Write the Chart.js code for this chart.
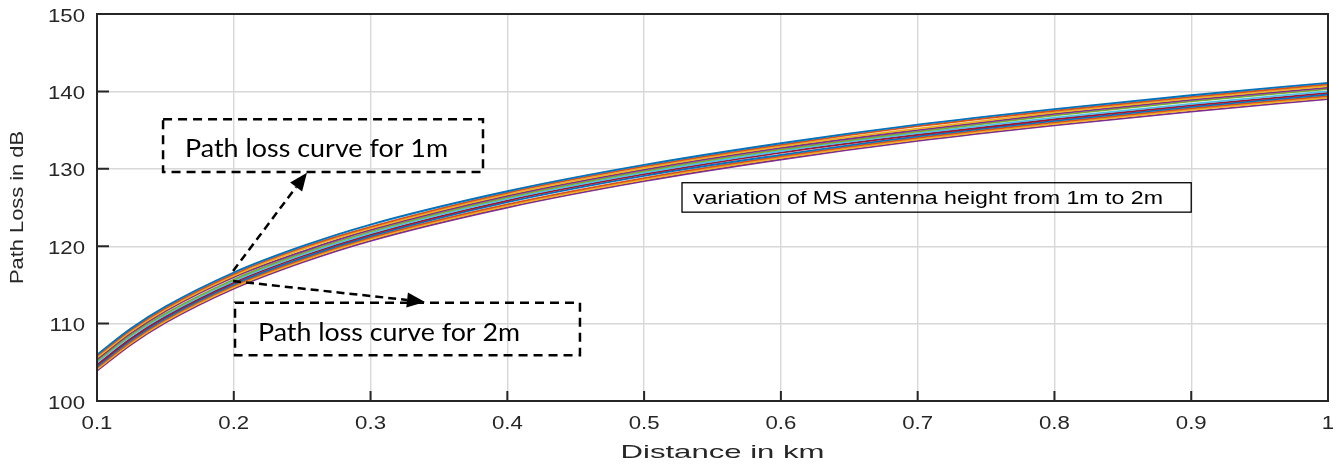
<!DOCTYPE html>
<html>
<head>
<meta charset="utf-8">
<title>Path loss vs distance</title>
<script src="https://cdn.jsdelivr.net/npm/chart.js@4.4.1/dist/chart.umd.min.js"></script>
<style>
  html, body { margin: 0; padding: 0; background: #ffffff; }
  canvas { display: block; }
</style>
</head>
<body>
<canvas id="pathLossChart" width="1339" height="466"></canvas>
<script>
// Distance from the base station (km)
const distanceKm = [0.1, 0.125, 0.15, 0.2, 0.25, 0.3, 0.4, 0.5, 0.6, 0.7, 0.8, 0.9, 1.0];

// Mobile station antenna heights, one curve each
const antennaHeights = ['1.0 m', '1.1 m', '1.2 m', '1.3 m', '1.4 m', '1.5 m', '1.6 m', '1.7 m', '1.8 m', '1.9 m', '2.0 m'];

// Path loss (dB) for each antenna height
const loss_1_0 = [106.0, 109.4, 112.2, 116.6, 120.0, 122.8, 127.1, 130.5, 133.3, 135.7, 137.7, 139.5, 141.1];
const loss_1_1 = [105.8, 109.2, 112.0, 116.4, 119.8, 122.5, 126.9, 130.3, 133.1, 135.5, 137.5, 139.3, 140.9];
const loss_1_2 = [105.6, 109.0, 111.8, 116.2, 119.6, 122.3, 126.7, 130.1, 132.9, 135.2, 137.3, 139.1, 140.7];
const loss_1_3 = [105.4, 108.8, 111.6, 116.0, 119.3, 122.1, 126.5, 129.9, 132.7, 135.0, 137.1, 138.9, 140.5];
const loss_1_4 = [105.2, 108.6, 111.3, 115.7, 119.1, 121.9, 126.3, 129.7, 132.5, 134.8, 136.9, 138.7, 140.3];
const loss_1_5 = [105.0, 108.4, 111.1, 115.5, 118.9, 121.7, 126.1, 129.5, 132.3, 134.6, 136.6, 138.4, 140.0];
const loss_1_6 = [104.7, 108.1, 110.9, 115.3, 118.7, 121.5, 125.9, 129.3, 132.1, 134.4, 136.4, 138.2, 139.8];
const loss_1_7 = [104.5, 107.9, 110.7, 115.1, 118.5, 121.3, 125.7, 129.1, 131.8, 134.2, 136.2, 138.0, 139.6];
const loss_1_8 = [104.3, 107.7, 110.5, 114.9, 118.3, 121.1, 125.4, 128.8, 131.6, 134.0, 136.0, 137.8, 139.4];
const loss_1_9 = [104.1, 107.5, 110.3, 114.7, 118.1, 120.9, 125.2, 128.6, 131.4, 133.8, 135.8, 137.6, 139.2];
const loss_2_0 = [103.9, 107.3, 110.1, 114.5, 117.9, 120.7, 125.0, 128.4, 131.2, 133.6, 135.6, 137.4, 139.0];

const lossSeries = [loss_1_0, loss_1_1, loss_1_2, loss_1_3, loss_1_4, loss_1_5,
                    loss_1_6, loss_1_7, loss_1_8, loss_1_9, loss_2_0];

// Axis ticks
const xTickValues = [0.1, 0.2, 0.3, 0.4, 0.5, 0.6, 0.7, 0.8, 0.9, 1.0];
const xTickLabels = ['0.1', '0.2', '0.3', '0.4', '0.5', '0.6', '0.7', '0.8', '0.9', '1'];
const yTickValues = [100, 110, 120, 130, 140, 150];
const yTickLabels = ['100', '110', '120', '130', '140', '150'];

const xAxisTitle = 'Distance in km';
const yAxisTitle = 'Path Loss in dB';

// Default line colour cycle
const lineColors = ['#0072BD', '#D95319', '#EDB120', '#7E2F8E', '#77AC30', '#4DBEEE', '#A2142F'];

const AXIS_COLOR = '#262626';
const GRID_COLOR = '#d8d8d8';
const LABEL_FONT = '17.5px "Liberation Sans"';
const LABEL_STRETCH = 1.27;

const datasets = lossSeries.map((values, i) => ({
  label: antennaHeights[i],
  data: distanceKm.map((d, k) => ({ x: d, y: values[k] })),
  borderColor: lineColors[i % lineColors.length],
  backgroundColor: lineColors[i % lineColors.length],
  borderWidth: 1.8,
  pointRadius: 0,
  fill: false,
  cubicInterpolationMode: 'monotone'
}));

// Callout boxes and arrows (positions in axis units)
const callouts = [
  { text: 'Path loss curve for 1m', x0: 0.1483, x1: 0.3822, y0: 136.4, y1: 129.6,
    dashed: true, font: '25px Lato', textDx: 22, textDy: 38, textWidth: 263 },
  { text: 'Path loss curve for 2m', x0: 0.2009, x1: 0.4531, y0: 112.7, y1: 105.9,
    dashed: true, font: '25px Lato', textDx: 23, textDy: 38, textWidth: 262 },
  { text: 'variation of MS antenna height from 1m to 2m', x0: 0.5277, x1: 0.9, y0: 128.2, y1: 124.4,
    dashed: false, font: '18px "Liberation Sans"', textDx: 11, textDy: 21, textWidth: 470 }
];
const arrows = [
  { fromX: 0.1995, fromY: 116.8, toX: 0.2535, toY: 129.5 },
  { fromX: 0.1995, fromY: 115.5, toX: 0.3398, toY: 112.8 }
];

// Text drawn with an independent horizontal scale (sx) or fitted to a width
function drawText(ctx, text, x, y, font, opt) {
  ctx.save();
  ctx.font = font;
  const natural = ctx.measureText(text).width;
  const sx = opt.width ? opt.width / natural : (opt.sx || 1);
  ctx.translate(x, y);
  if (opt.rotate) ctx.rotate(opt.rotate);
  ctx.scale(sx, 1);
  ctx.textAlign = opt.align || 'left';
  ctx.textBaseline = 'alphabetic';
  ctx.fillStyle = opt.color || '#000';
  ctx.fillText(text, 0, 0);
  ctx.restore();
}

function drawArrow(ctx, x1, y1, x2, y2) {
  const ang = Math.atan2(y2 - y1, x2 - x1);
  const headLen = 18, headHalf = 7.5;
  const bx = x2 - headLen * Math.cos(ang);
  const by = y2 - headLen * Math.sin(ang);
  ctx.save();
  ctx.strokeStyle = '#000';
  ctx.lineWidth = 2.5;
  ctx.setLineDash([8, 5]);
  ctx.beginPath();
  ctx.moveTo(x1, y1);
  ctx.lineTo(bx, by);
  ctx.stroke();
  ctx.setLineDash([]);
  ctx.fillStyle = '#000';
  ctx.beginPath();
  ctx.moveTo(x2, y2);
  ctx.lineTo(bx + headHalf * Math.sin(ang), by - headHalf * Math.cos(ang));
  ctx.lineTo(bx - headHalf * Math.sin(ang), by + headHalf * Math.cos(ang));
  ctx.closePath();
  ctx.fill();
  ctx.restore();
}

const calloutPlugin = {
  id: 'callouts',
  afterDatasetsDraw(chart) {
    const { ctx, scales: { x, y } } = chart;
    callouts.forEach(c => {
      const left = x.getPixelForValue(c.x0), right = x.getPixelForValue(c.x1);
      const top = y.getPixelForValue(c.y0), bottom = y.getPixelForValue(c.y1);
      ctx.save();
      ctx.strokeStyle = '#000';
      if (c.dashed) {
        ctx.lineWidth = 2.5;
        ctx.setLineDash([9, 6]);
      } else {
        ctx.lineWidth = 1.3;
      }
      ctx.strokeRect(left, top, right - left, bottom - top);
      ctx.restore();
      drawText(ctx, c.text, left + c.textDx, top + c.textDy, c.font, { width: c.textWidth });
    });
    arrows.forEach(a => {
      drawArrow(ctx, x.getPixelForValue(a.fromX), y.getPixelForValue(a.fromY),
                x.getPixelForValue(a.toX), y.getPixelForValue(a.toY));
    });
  }
};

// Box outline, inward tick marks, tick labels and axis titles
const axesPlugin = {
  id: 'axesFrame',
  afterDraw(chart) {
    const { ctx, chartArea: a, scales: { x, y } } = chart;
    ctx.save();
    ctx.strokeStyle = AXIS_COLOR;
    ctx.lineWidth = 2;
    ctx.beginPath();
    xTickValues.forEach(v => {
      const px = x.getPixelForValue(v);
      ctx.moveTo(px, a.bottom);
      ctx.lineTo(px, a.bottom - 10);
    });
    yTickValues.forEach(v => {
      const py = y.getPixelForValue(v);
      ctx.moveTo(a.left, py);
      ctx.lineTo(a.left + 12, py);
    });
    ctx.stroke();
    ctx.beginPath();
    ctx.moveTo(a.left, a.top);
    ctx.lineTo(a.right, a.top);
    ctx.lineTo(a.right, a.bottom);
    ctx.lineTo(a.left, a.bottom);
    ctx.closePath();
    ctx.stroke();
    ctx.restore();

    xTickValues.forEach((v, i) => {
      drawText(ctx, xTickLabels[i], x.getPixelForValue(v), a.bottom + 28, LABEL_FONT,
               { sx: LABEL_STRETCH, align: 'center', color: AXIS_COLOR });
    });
    yTickValues.forEach((v, i) => {
      drawText(ctx, yTickLabels[i], a.left - 12, y.getPixelForValue(v) + 7.5, LABEL_FONT,
               { sx: LABEL_STRETCH, align: 'right', color: AXIS_COLOR });
    });
    drawText(ctx, xAxisTitle, (a.left + a.right) / 2 + 10, a.bottom + 57, '19px "Liberation Sans"',
             { width: 204, align: 'center', color: AXIS_COLOR });
    drawText(ctx, yAxisTitle, 23, (a.top + a.bottom) / 2, '18px "Liberation Sans"',
             { width: 153, align: 'center', rotate: -Math.PI / 2, color: AXIS_COLOR });
  }
};

new Chart(document.getElementById('pathLossChart'), {
  type: 'line',
  data: { datasets },
  plugins: [calloutPlugin, axesPlugin],
  options: {
    responsive: false,
    animation: false,
    layout: { padding: { top: 14, right: 11, left: 0, bottom: 0 } },
    plugins: { legend: { display: false }, tooltip: { enabled: false } },
    scales: {
      x: {
        type: 'linear',
        min: 0.1,
        max: 1,
        afterBuildTicks: s => { s.ticks = xTickValues.map(v => ({ value: v })); },
        afterFit: s => { s.height = 65; },
        grid: { color: GRID_COLOR, lineWidth: 1.4, drawTicks: false },
        border: { color: AXIS_COLOR, width: 2 },
        ticks: { display: false }
      },
      y: {
        type: 'linear',
        min: 100,
        max: 150,
        afterBuildTicks: s => { s.ticks = yTickValues.map(v => ({ value: v })); },
        afterFit: s => { s.width = 97; },
        grid: { color: GRID_COLOR, lineWidth: 1.4, drawTicks: false },
        border: { color: AXIS_COLOR, width: 2 },
        ticks: { display: false }
      }
    }
  }
});
</script>
</body>
</html>
